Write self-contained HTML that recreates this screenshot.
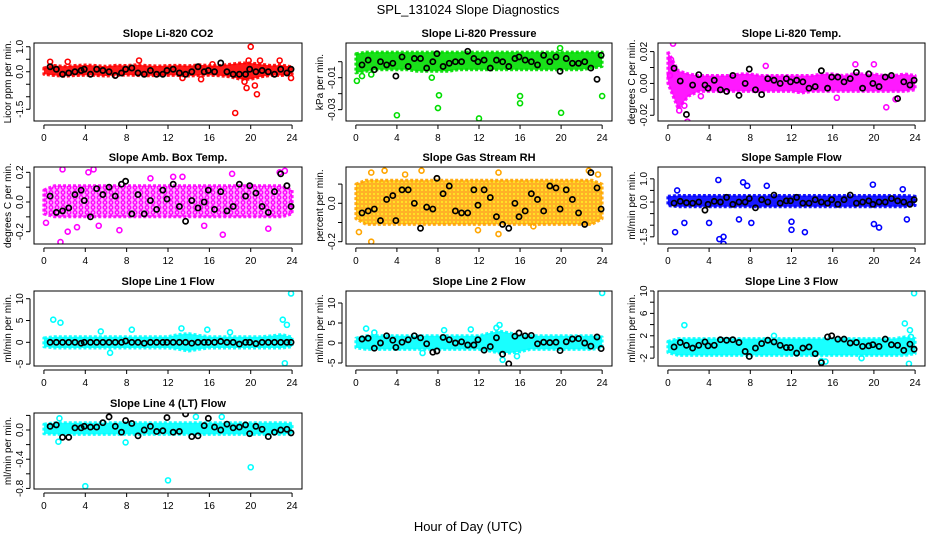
<!DOCTYPE html>
<html><head><meta charset="utf-8"><style>
html,body{margin:0;padding:0;background:#fff;}
svg{display:block;font-family:"Liberation Sans",Arial,sans-serif;}
</style></head><body>
<svg id="chart" width="936" height="540" viewBox="0 0 936 540" xmlns="http://www.w3.org/2000/svg">
<defs>
<pattern id="patAmb" width="6" height="5" patternUnits="userSpaceOnUse"><rect width="6" height="5" fill="#ffb0ff"/><circle cx="3" cy="2.5" r="1.8" fill="none" stroke="#ff00ff" stroke-width="1.3"/></pattern>
<pattern id="patRH" width="4" height="4" patternUnits="userSpaceOnUse"><rect width="4" height="4" fill="#ffa500"/><circle cx="2" cy="2" r="1" fill="#ffee00"/></pattern>
</defs>
<text x="468" y="14" text-anchor="middle" font-size="13">SPL_131024  Slope Diagnostics</text>
<text x="468" y="531" text-anchor="middle" font-size="13">Hour of Day (UTC)</text>
</svg>
<script>
const blackHours=[0.6,1.2,1.8,2.4,3.0,3.6,3.9,4.5,5.1,5.7,6.3,6.9,7.5,7.9,8.5,9.1,9.7,10.3,10.9,11.5,11.9,12.5,13.1,13.7,14.3,14.9,15.5,15.9,16.5,17.1,17.7,18.3,18.9,19.5,19.9,20.5,21.1,21.7,22.3,22.9,23.5,23.9];
const bandHours=[0,1,2,3,4,5,6,7,8,9,10,11,12,13,14,15,16,17,18,19,20,21,22,23,24];
const xTicks=[0,4,8,12,16,20,24];

const black1=[0.2,0.1,-0.1,-0.05,0.0,0.05,0.1,-0.1,0.1,0.05,0.0,-0.15,-0.05,0.1,0.15,-0.05,-0.1,0.05,-0.1,-0.1,0.05,0.1,-0.05,-0.1,0.0,0.2,0.0,0.05,0.0,0.35,0.0,-0.1,-0.1,-0.1,0.1,0.0,0.05,0.0,-0.1,0.1,-0.05,0.1];
const black2=[-0.002,0.001,-0.005,0.0,-0.002,-0.001,-0.009,0.003,-0.003,0.002,0.002,-0.004,0.0,0.005,-0.003,-0.001,0.0,0.0,0.0065,0.002,0.0,0.001,-0.004,0.001,0.0,-0.003,0.002,0.003,0.001,0.0,-0.002,0.004,0.0,0.003,-0.006,0.002,-0.001,-0.001,0.0,-0.004,-0.011,0.004];
const black3=[0.0095,0.0015,-0.0195,-0.001,0.0055,-0.001,-0.003,0.002,-0.004,-0.005,0.005,-0.0075,0.0,0.009,-0.004,-0.007,0.003,0.002,0.0,0.003,0.001,0.002,0.001,-0.003,-0.002,0.008,-0.003,0.004,0.004,0.001,0.003,0.007,-0.003,0.006,0.0,-0.002,0.004,0.005,-0.0095,0.001,-0.001,0.002];
const black4=[0.04,-0.07,-0.06,-0.04,0.05,0.08,0.01,-0.1,0.09,0.05,0.1,0.04,0.12,0.14,-0.08,0.05,-0.08,0.01,-0.05,0.08,0.02,0.12,-0.03,-0.13,0.01,-0.04,0.0,0.08,-0.05,0.07,-0.06,-0.03,0.12,0.04,0.11,0.06,-0.03,-0.07,0.07,0.19,0.11,-0.03];
const black5=[-0.05,-0.04,-0.03,-0.09,0.02,0.04,-0.09,0.07,0.07,0.0,-0.13,-0.02,-0.03,0.13,0.05,0.09,-0.04,-0.05,-0.05,0.07,-0.01,0.07,0.03,-0.07,-0.11,-0.13,0.0,-0.07,-0.04,0.05,0.02,-0.04,0.09,0.08,-0.03,0.07,0.02,-0.05,-0.11,0.16,0.08,-0.03];
const black6=[-0.05,0.03,-0.03,-0.05,0.0,-0.35,-0.1,0.03,0.0,0.2,-0.1,0.0,0.0,0.15,-0.25,0.1,0.0,0.3,-0.05,0.05,0.05,0.2,-0.05,-0.05,0.1,0.0,-0.05,0.1,-0.1,0.1,0.3,-0.05,0.0,0.05,-0.1,0.0,0.0,0.15,0.05,0.0,-0.1,0.1];
const black7=[0,0,0,0,0,-0.2,0,0,0,0,0,0,0,0.3,0,0,-0.2,0,0,0,0,0,0,0,-0.2,0,0,0,0,0.2,0,0,-0.4,0,0,-0.3,0,0,0,0,0,0];
const black8=[1.0,1.2,-1.3,0.0,1.8,0.7,-1.1,0.2,0.8,1.8,1.3,-0.2,-2.3,-2.0,1.4,0.8,0.0,0.3,-0.5,-0.5,0.8,-1.8,-0.9,1.3,-2.8,-5.2,1.7,2.5,1.8,1.9,-0.2,0.2,0.1,0.2,-1.9,0.3,1.0,1.1,0.0,-0.8,1.5,-1.4];
const black9=[0.0,0.8,0.3,-0.2,0.3,0.9,0.2,0.3,1.3,1.2,1.3,0.8,-0.8,-1.7,-0.2,0.6,1.2,0.9,0.3,-0.1,-0.1,-1.1,-0.2,0.0,-1.2,-2.8,1.8,2.0,1.4,1.4,0.7,0.8,0.1,0.2,0.4,0.1,1.4,0.4,0.3,-0.6,0.5,-0.4];
const black10=[0.05,0.07,-0.1,-0.1,0.03,0.03,0.05,0.04,0.04,0.1,0.18,0.05,-0.03,0.13,0.09,-0.08,0.0,0.05,-0.02,-0.01,0.17,-0.03,-0.02,0.22,-0.09,-0.08,0.06,0.16,0.04,0.0,0.08,0.03,0.04,0.07,-0.05,0.05,0.01,-0.09,-0.03,0.0,0.01,-0.04];

const lo1=[-0.1,-0.15,-0.18,-0.15,-0.14,-0.15,-0.17,-0.15,-0.13,-0.15,-0.16,-0.15,-0.14,-0.15,-0.17,-0.15,-0.14,-0.16,-0.2,-0.3,-0.3,-0.2,-0.15,-0.15,-0.1];
const hi1=[0.15,0.25,0.22,0.25,0.27,0.25,0.22,0.26,0.25,0.28,0.25,0.23,0.25,0.26,0.24,0.28,0.25,0.25,0.3,0.35,0.35,0.3,0.25,0.27,0.2];
const lo2=[-0.007,-0.006,-0.005,-0.005,-0.005,-0.005,-0.006,-0.006,-0.006,-0.006,-0.005,-0.005,-0.005,-0.005,-0.005,-0.005,-0.005,-0.005,-0.005,-0.005,-0.005,-0.005,-0.005,-0.004,-0.003];
const hi2=[0.005,0.006,0.006,0.006,0.006,0.006,0.006,0.006,0.006,0.006,0.006,0.006,0.006,0.006,0.006,0.006,0.006,0.006,0.006,0.006,0.006,0.006,0.006,0.006,0.006];
const lo3=[0.0,-0.016,-0.008,-0.005,-0.005,-0.005,-0.005,-0.005,-0.005,-0.005,-0.005,-0.005,-0.005,-0.006,-0.005,-0.005,-0.005,-0.005,-0.005,-0.005,-0.005,-0.005,-0.005,-0.005,-0.004];
const hi3=[0.02,0.008,0.006,0.005,0.005,0.005,0.005,0.006,0.006,0.005,0.005,0.005,0.005,0.005,0.005,0.006,0.006,0.005,0.006,0.006,0.006,0.005,0.005,0.006,0.005];
const lo4=[-0.08,-0.1,-0.1,-0.1,-0.1,-0.1,-0.1,-0.1,-0.1,-0.1,-0.1,-0.1,-0.1,-0.1,-0.1,-0.1,-0.1,-0.1,-0.1,-0.1,-0.1,-0.1,-0.1,-0.1,-0.08];
const hi4=[0.08,0.11,0.11,0.11,0.11,0.11,0.11,0.11,0.11,0.11,0.11,0.11,0.11,0.11,0.11,0.11,0.11,0.11,0.11,0.11,0.11,0.11,0.11,0.11,0.08];
const lo5=[-0.08,-0.11,-0.11,-0.11,-0.11,-0.11,-0.11,-0.11,-0.11,-0.11,-0.11,-0.11,-0.11,-0.11,-0.11,-0.11,-0.11,-0.11,-0.11,-0.11,-0.11,-0.11,-0.11,-0.11,-0.08];
const hi5=[0.1,0.12,0.12,0.12,0.12,0.12,0.12,0.12,0.12,0.12,0.12,0.12,0.12,0.12,0.12,0.12,0.12,0.12,0.12,0.12,0.12,0.12,0.12,0.12,0.1];
const lo6=[-0.15,-0.2,-0.2,-0.2,-0.2,-0.2,-0.2,-0.2,-0.2,-0.2,-0.2,-0.2,-0.2,-0.2,-0.2,-0.2,-0.2,-0.2,-0.2,-0.2,-0.2,-0.2,-0.2,-0.2,-0.15];
const hi6=[0.25,0.28,0.28,0.28,0.28,0.28,0.28,0.28,0.28,0.28,0.28,0.28,0.28,0.28,0.28,0.28,0.28,0.28,0.28,0.28,0.28,0.28,0.28,0.28,0.25];
const lo7=[-1.0,-1.3,-1.3,-1.3,-1.3,-1.3,-1.3,-1.3,-1.3,-1.3,-1.3,-1.3,-1.3,-1.6,-2.0,-1.6,-1.3,-1.3,-1.3,-1.3,-1.3,-1.3,-1.3,-1.3,-1.0];
const hi7=[1.0,1.3,1.3,1.3,1.3,1.3,1.3,1.3,1.3,1.3,1.3,1.3,1.3,1.8,2.0,1.6,1.3,1.3,1.3,1.3,1.3,1.3,1.5,1.8,1.2];
const lo8=[-1.2,-1.6,-1.6,-1.6,-1.6,-1.6,-1.6,-1.6,-1.6,-1.6,-1.6,-1.6,-1.6,-2.0,-2.5,-2.5,-2.2,-1.6,-1.6,-1.6,-1.6,-1.6,-1.6,-1.6,-1.2];
const hi8=[1.2,1.8,1.8,1.8,1.8,1.8,1.8,1.8,1.8,1.8,1.8,1.8,1.8,2.5,3.0,2.5,2.0,1.8,1.8,1.8,1.8,1.8,1.8,1.8,1.5];
const lo9=[-1.0,-1.5,-1.5,-1.5,-1.5,-1.5,-1.5,-1.5,-1.5,-1.5,-1.5,-1.5,-1.5,-1.5,-1.5,-1.5,-1.5,-1.5,-1.5,-1.5,-1.5,-1.5,-1.5,-1.5,-1.2];
const hi9=[1.0,1.5,1.5,1.5,1.5,1.5,1.5,1.5,1.5,1.5,1.5,1.5,1.5,1.5,1.5,1.5,1.5,1.5,1.5,1.5,1.5,1.5,1.5,1.8,1.5];
const lo10=[-0.05,-0.06,-0.06,-0.06,-0.06,-0.06,-0.06,-0.06,-0.06,-0.06,-0.06,-0.06,-0.06,-0.06,-0.06,-0.06,-0.06,-0.06,-0.06,-0.06,-0.06,-0.06,-0.06,-0.06,-0.05];
const hi10=[0.08,0.1,0.1,0.1,0.1,0.1,0.1,0.1,0.1,0.1,0.1,0.1,0.1,0.1,0.1,0.1,0.1,0.1,0.1,0.1,0.1,0.1,0.1,0.1,0.09];

const outX1=[18.5,20.0,20.6,20.4,19.6,19.4,20.9,19.8,9.2,2.3,0.6,15.2,23.9,16.3,13.4,22.8];
const outY1=[-1.65,1.0,-0.9,-0.55,-0.65,-0.4,0.45,0.45,0.45,0.4,0.4,-0.3,-0.25,0.3,-0.25,0.45];
const outX2=[0.1,0.6,1.5,7.4,8.1,8.0,4.0,12.0,16.0,16.0,20.0,24.0,19.9];
const outY2=[-0.012,-0.009,-0.008,-0.01,-0.021,-0.029,-0.0335,-0.0355,-0.0215,-0.026,-0.032,-0.0215,0.0085];
const outX3=[0.5,0.3,1.1,1.9,1.6,9.5,16.4,21.2,18.2,20.0,22.1,0.2,3.2];
const outY3=[0.025,0.015,-0.017,-0.024,-0.014,0.011,-0.009,-0.015,0.012,0.012,-0.010,0.005,-0.008];
const outX4=[1.8,4.8,4.3,1.6,2.3,7.3,10.3,13.4,17.3,21.7,22.8,23.3,0.2,5.3,3.2,15.5,18.2,12.5];
const outY4=[0.22,0.22,0.2,-0.27,-0.2,-0.19,0.16,0.17,-0.22,-0.18,0.2,0.21,-0.14,-0.16,-0.17,-0.16,0.19,0.17];
const outX5=[1.5,0.3,1.5,2.8,6.4,7.9,11.9,13.9,13.9,22.7,4.8,17.3,23.6];
const outY5=[-0.2,-0.15,0.16,0.17,0.17,0.13,-0.14,0.16,-0.16,0.17,0.15,-0.12,0.15];
const outX6=[0.8,0.7,5.4,5.4,5.0,4.9,7.3,7.7,9.6,12.0,12.0,13.3,19.9,20.5,23.2,4.0,1.6,6.9,8.1,0.9,20.0,22.8];
const outY6=[1.65,-1.3,-1.8,-1.5,-1.6,0.95,0.85,0.7,0.7,-1.2,-0.85,-1.3,0.75,-1.1,-0.75,-0.9,-0.9,-0.75,-0.9,0.5,-0.95,0.55];
const outX7=[0.9,1.6,23.9,23.1,23.5,23.3,6.4,8.5,15.8,5.5,18.0,13.3];
const outY7=[5.2,4.5,11.2,5.2,4.0,-4.8,-2.4,2.9,2.9,2.5,2.3,3.2];
const outX8=[1.0,24.0,14.0,14.3,15.7,6.5,1.8,8.6,11.2,13.7];
const outY8=[3.6,12.5,4.5,-4.2,-3.3,-2.5,2.6,3.2,3.4,3.8];
const outX9=[1.6,23.9,23.0,23.5,23.4,23.6,15.3,18.8,14.9,10.3];
const outY9=[3.9,9.6,4.2,3.0,-3.0,1.8,-2.6,-2.0,-2.5,2.0];
const outX10=[4.0,12.0,20.0,1.5,14.7,1.4,17.2,7.9];
const outY10=[-0.77,-0.69,-0.51,0.16,0.18,-0.16,0.18,-0.17];

const blackSets=[black1,black2,black3,black4,black5,black6,black7,black8,black9,black10];
const loSets=[lo1,lo2,lo3,lo4,lo5,lo6,lo7,lo8,lo9,lo10];
const hiSets=[hi1,hi2,hi3,hi4,hi5,hi6,hi7,hi8,hi9,hi10];
const outXSets=[outX1,outX2,outX3,outX4,outX5,outX6,outX7,outX8,outX9,outX10];
const outYSets=[outY1,outY2,outY3,outY4,outY5,outY6,outY7,outY8,outY9,outY10];
const titles=["Slope Li-820 CO2","Slope Li-820 Pressure","Slope Li-820 Temp.","Slope Amb. Box Temp.","Slope Gas Stream RH","Slope Sample Flow","Slope Line 1 Flow","Slope Line 2 Flow","Slope Line 3 Flow","Slope Line 4 (LT) Flow"];
const yTitles=["Licor ppm per min.","kPa per min.","degrees C per min.","degrees C per min.","percent per min.","ml/min per min.","ml/min per min.","ml/min per min.","ml/min per min.","ml/min per min."];
const yTickVals=[[-1.5,-1.0,-0.5,0,0.5,1.0],[-0.03,-0.02,-0.01,0],[-0.02,-0.01,0,0.01,0.02],[-0.2,-0.1,0,0.1,0.2],[-0.2,-0.1,0,0.1],[-1.5,-1.0,-0.5,0,0.5,1.0],[-5,0,5,10],[-5,0,5,10],[-2,0,2,4,6,8,10],[-0.8,-0.6,-0.4,-0.2,0,0.2]];
const yTickLabels=[["-1.5","","","0.0","","1.0"],["-0.03","","-0.01",""],["-0.02","","0.00","","0.02"],["-0.2","","0.0","","0.2"],["-0.2","","0.0",""],["-1.5","","","0.0","","1.0"],["-5","0","5","10"],["-5","0","5","10"],["-2","","2","","6","","10"],["-0.8","","-0.4","","0.0",""]];
const yLims=[[-1.97,1.15],[-0.0371,0.0117],[-0.0236,0.0254],[-0.283,0.236],[-0.212,0.189],[-1.81,1.51],[-5.43,11.77],[-5.75,13.0],[-3.4,10.0],[-0.808,0.233]];
const colors=["#ff0000","#00dd00","#ff00ff","#ff00ff","#ffa500","#0000ff","#00ffff","#00ffff","#00ffff","#00ffff"];

const NS="http://www.w3.org/2000/svg";
const svg=document.getElementById('chart');
const colL=[34,346,658], colR=[302,612,925];
const rowT=[43,167,291,413], rowB=[121,244,366,489];
function mk(tag,attrs,parent){const e=document.createElementNS(NS,tag);for(const k in attrs)e.setAttribute(k,attrs[k]);(parent||svg).appendChild(e);return e;}

for(let p=0;p<10;p++){
  const c=p%3, r=Math.floor(p/3);
  const L=colL[c],R=colR[c],T=rowT[r],B=rowB[r];
  const g=mk('g',{});
  
  
  const xs=h=>L+(h+0.96)/25.92*(R-L);
  const ys=v=>B-(v-yLims[p][0])/(yLims[p][1]-yLims[p][0])*(B-T);
  const clipId='clip'+p;
  const cp=mk('clipPath',{id:clipId},g);mk('rect',{x:L,y:T,width:R-L,height:B-T},cp);
  const inner=mk('g',{'clip-path':'url(#'+clipId+')'},g);
  let d='';
  bandHours.forEach((h,i)=>{d+=(i?'L':'M')+xs(h).toFixed(1)+','+ys(hiSets[p][i]).toFixed(1);});
  for(let i=bandHours.length-1;i>=0;i--)d+='L'+xs(bandHours[i]).toFixed(1)+','+ys(loSets[p][i]).toFixed(1);
  d+='Z';
  let fill=colors[p], op=0.9;
  if(p===3){fill='url(#patAmb)';op=1;}
  if(p===4){fill='url(#patRH)';op=0.85;}
  const band=mk('path',{d:d,fill:fill,stroke:colors[p],'stroke-width':3,'stroke-dasharray':'3 2','stroke-linejoin':'round','fill-opacity':op,'stroke-opacity':0.9},inner);
  
  
  outXSets[p].forEach((h,i)=>{
    const o=mk('circle',{cx:xs(h),cy:ys(outYSets[p][i]),r:2.5,fill:'none',stroke:colors[p],'stroke-width':1.6},inner);
    
    
  });
  blackHours.forEach((h,i)=>{
    const o=mk('circle',{cx:xs(h),cy:ys(blackSets[p][i]),r:2.6,fill:'none',stroke:'#000','stroke-width':1.7},inner);
    
    
  });
  const box=mk('rect',{x:L,y:T,width:R-L,height:B-T,fill:'none',stroke:'#000','stroke-width':1},g);
  
  
  const t=mk('text',{x:(L+R)/2,y:T-6,'text-anchor':'middle','font-size':11,'font-weight':'bold'},g);
  t.textContent=titles[p];
  
  
  mk('line',{x1:xs(0),x2:xs(24),y1:B+4,y2:B+4,stroke:'#000'},g);
  xTicks.forEach(v=>{
    mk('line',{x1:xs(v),x2:xs(v),y1:B+4,y2:B+8,stroke:'#000'},g);
    const tl=mk('text',{x:xs(v),y:B+20,'text-anchor':'middle','font-size':10},g);
    tl.textContent=v;
    
    
  });
  const tv=yTickVals[p];
  mk('line',{x1:L-4,x2:L-4,y1:ys(tv[0]),y2:ys(tv[tv.length-1]),stroke:'#000'},g);
  tv.forEach((v,i)=>{
    mk('line',{x1:L-8,x2:L-4,y1:ys(v),y2:ys(v),stroke:'#000'},g);
    if(yTickLabels[p][i]){
      const yl=mk('text',{x:0,y:0,'text-anchor':'middle','font-size':10,transform:'translate('+(L-11)+','+ys(v)+') rotate(-90)'},g);
      yl.textContent=yTickLabels[p][i];
      
      
    }
  });
  const ya=mk('text',{x:0,y:0,'text-anchor':'middle','font-size':10,transform:'translate('+(L-23)+','+((T+B)/2)+') rotate(-90)'},g);
  ya.textContent=yTitles[p];
  
  
}
</script>
</body></html>
